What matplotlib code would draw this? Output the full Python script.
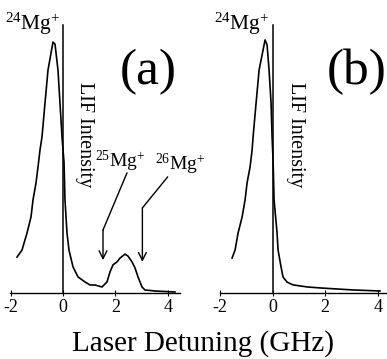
import matplotlib
matplotlib.use('Agg')
import matplotlib.pyplot as plt

plt.rcParams['font.family'] = ['Liberation Serif', 'DejaVu Serif']
plt.rcParams['mathtext.fontset'] = 'custom'
plt.rcParams['mathtext.rm'] = 'Liberation Serif'
plt.rcParams['mathtext.it'] = 'Liberation Serif:italic'

# Panel (a): spectrum with all three isotopes (detuning in GHz, normalised LIF)
det_a = [-1.756, -1.565, -1.374, -1.221, -1.145, -1.031, -0.954, -0.878, -0.802,
         -0.687, -0.573, -0.382, -0.305, -0.191, -0.115, -0.038, 0.038, 0.076,
         0.153, 0.229, 0.382, 0.573, 0.840, 1.031, 1.221, 1.489, 1.679, 1.794,
         1.908, 2.061, 2.176, 2.366, 2.481, 2.634, 2.748, 2.863, 3.015, 3.130,
         3.511, 4.275]
lif_a = [0.143, 0.171, 0.239, 0.303, 0.371, 0.438, 0.502, 0.570, 0.622,
         0.757, 0.888, 1.000, 0.992, 0.888, 0.757, 0.622, 0.522, 0.371,
         0.239, 0.171, 0.104, 0.064, 0.044, 0.032, 0.032, 0.024, 0.044, 0.084,
         0.112, 0.124, 0.139, 0.155, 0.147, 0.124, 0.100, 0.064, 0.024, 0.012,
         0.008, 0.004]

# Panel (b): 24Mg+ only
det_b = [-1.540, -1.426, -1.312, -1.160, -1.046, -0.970, -0.856, -0.779, -0.741,
         -0.627, -0.513, -0.285, -0.209, -0.133, -0.057, -0.019, 0.019, 0.057,
         0.171, 0.209, 0.323, 0.399, 0.551, 0.779, 1.312, 1.806, 3.061, 4.087]
lif_b = [0.138, 0.170, 0.237, 0.300, 0.368, 0.435, 0.498, 0.565, 0.617,
         0.751, 0.881, 1.000, 0.980, 0.881, 0.751, 0.617, 0.526, 0.368,
         0.237, 0.170, 0.103, 0.063, 0.043, 0.032, 0.024, 0.020, 0.012, 0.008]

xticks = [-2, 0, 2, 4]
xtick_labels = ['-2', '0', '2', '4']

# arrow paths in panel (a): start, knee, tip
arrow_25 = [(2.44, 0.478), (1.527, 0.251), (1.527, 0.131)]
arrow_26 = [(3.99, 0.462), (3.03, 0.339), (3.03, 0.124)]

W, H = 387, 359
fig = plt.figure(figsize=(W / 100, H / 100), dpi=100)

ax_a = fig.add_axes([10 / W, 66 / H, 170 / W, 268 / H])
ax_b = fig.add_axes([220 / W, 66 / H, 167 / W, 268 / H])


def style(ax, xlim, ytop):
    ax.set_xlim(*xlim)
    ax.set_ylim(0, ytop)
    ax.spines['top'].set_visible(False)
    ax.spines['right'].set_visible(False)
    ax.spines['left'].set_position(('data', 0))
    ax.spines['left'].set_linewidth(1.1)
    ax.spines['bottom'].set_linewidth(1.0)
    ax.set_yticks([])
    ax.set_xticks(xticks)
    ax.set_xticklabels(xtick_labels)
    ax.tick_params(axis='x', direction='inout', length=5, width=0.8,
                   labelsize=13, pad=2)
    ax.patch.set_visible(False)


ax_a.plot(det_a, lif_a, color='black', lw=1.2)
style(ax_a, (-2.023, 4.466), 1.068)

ax_b.plot(det_b, lif_b, color='black', lw=1.2)
style(ax_b, (-1.996, 4.354), 1.059)

for path in (arrow_25, arrow_26):
    ax_a.plot([path[0][0], path[1][0]], [path[0][1], path[1][1]],
              color='black', lw=1.0)
    ax_a.annotate('', xy=path[2], xytext=path[1],
                  arrowprops=dict(arrowstyle='->', lw=1.0, color='black',
                                  shrinkA=0, shrinkB=0, mutation_scale=14))

# labels
fig.text(5 / W, 1 - 30 / H, r'$^{24}$Mg$^{+}$', fontsize=15.5, va='baseline')
fig.text(214 / W, 1 - 30 / H, r'$^{24}$Mg$^{+}$', fontsize=15.5, va='baseline')
fig.text(95 / W, 1 - 167 / H, r'$^{25}$Mg$^{+}$', fontsize=14, va='baseline')
fig.text(155 / W, 1 - 170 / H, r'$^{26}$Mg$^{+}$', fontsize=14, va='baseline')

fig.text(148 / W, 1 - 72 / H, '(a)', fontsize=37, ha='center', va='center')
fig.text(327 / W, 1 - 72 / H, '(b)', fontsize=37, ha='left', va='center')

fig.text(84 / W, 1 - 135 / H, 'LIF Intensity', fontsize=14.5, rotation=-90,
         ha='center', va='center')
fig.text(296 / W, 1 - 135 / H, 'LIF Intensity', fontsize=14.5, rotation=-90,
         ha='center', va='center')

fig.text(203 / W, 1 - 344 / H, 'Laser Detuning (GHz)', fontsize=21,
         ha='center', va='center')

fig.savefig('out.png', dpi=100)
